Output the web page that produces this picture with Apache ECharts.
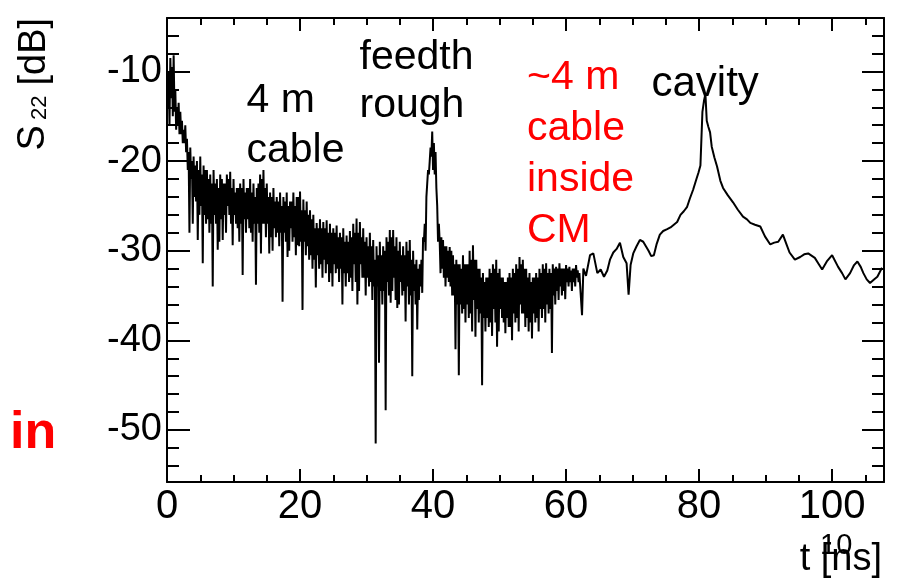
<!DOCTYPE html>
<html>
<head>
<meta charset="utf-8">
<script src="https://cdn.jsdelivr.net/npm/echarts@6/dist/echarts.min.js"></script>
<style>
html,body{margin:0;padding:0;background:#fff;}
#chart{width:902px;height:580px;}
</style>
</head>
<body>
<div id="chart"></div>
<script>
// ---------- data ----------
// noisy part (0 - 62 ns): local maxima every 0.25 ns from 0 ns,
// local minima every 0.25 ns starting half a step later
const noisyStart = 0;
const noisyStep = 0.25;
const noisyPeaks = [
  -11, -10, -8.5, -9.5,
  -8.2, -12, -14, -13.5,
  -14.5, -15.5, -16.5, -16,
  -17.5, -19, -18.5, -20,
  -19.5, -20.5, -20, -21,
  -19.5, -21.5, -20.5, -21,
  -21, -22, -21.5, -22.5,
  -21, -22.5, -22, -23,
  -21.5, -22, -22.5, -22.5,
  -21.5, -22, -21.2, -23,
  -22, -23.5, -23, -23,
  -22.5, -23, -22, -23.5,
  -23, -23, -22, -23.5,
  -22.5, -24, -23, -22.5,
  -21.5, -22, -21, -23,
  -22.5, -24, -23.5, -24,
  -23, -24.5, -24, -24.5,
  -23.5, -25, -24, -24.5,
  -23.5, -25, -24.5, -24.5,
  -23.5, -25, -24, -24,
  -23.4, -25.5, -24.3, -25.5,
  -24.5, -26, -25.5, -26.5,
  -26, -27.5, -26.9, -27.5,
  -26.5, -27.5, -26.8, -27.5,
  -26.6, -28, -27, -28,
  -27.5, -28, -27.2, -28.5,
  -28, -28.5, -27.5, -29,
  -28.3, -29, -27.8, -28.5,
  -27, -28, -26.4, -28,
  -26.8, -28.5, -27.5, -29,
  -28.5, -29.5, -28, -29.5,
  -28.8, -31, -29.5, -30.5,
  -29, -30.5, -29.5, -30,
  -28.5, -29, -27.7, -28.5,
  -27.7, -29.5, -28.5, -30,
  -29, -30.5, -29.5, -30.5,
  -29, -30, -28.8, -31,
  -30, -31.5, -31, -32,
  -31.5, -31, -28.5, -27,
  -24, -21, -20, -19.5,
  -21, -21.5, -23, -29,
  -29, -28.5, -28.8, -29.5,
  -29.5, -30, -29.6, -30,
  -30.5, -31.5, -31, -31.5,
  -31.5, -32, -30.5, -31.5,
  -31.5, -31.5, -30, -31,
  -29.4, -31, -31, -32,
  -32, -33, -32.5, -33.5,
  -33, -33, -32, -32.5,
  -31.5, -32, -31, -32.5,
  -32, -33, -33, -33.5,
  -33.5, -33, -32.5, -33,
  -32, -32.5, -31.5, -32,
  -30.7, -31.5, -31, -32,
  -32, -33, -32.5, -33.5,
  -33, -33, -32.5, -33,
  -32, -32.5, -31.5, -32,
  -31.4, -32.5, -32, -32.5,
  -31.5, -32, -31.8, -32,
  -31.4, -32, -32, -32,
  -31.6, -32, -31.8, -32.2,
  -32, -32, -31.6, -32.2
];
const noisyTroughs = [
  -14, -16, -13, -15,
  -14.5, -16.5, -16, -17,
  -17, -18, -18, -19,
  -21, -28, -22, -27,
  -24, -24.5, -28.8, -26,
  -25, -31.4, -26, -27,
  -26.5, -28, -27, -34,
  -26, -27, -29.9, -29,
  -26.5, -28.8, -26, -28,
  -25, -26, -27, -29.4,
  -26, -27, -27.5, -29,
  -27, -32.7, -26.5, -28,
  -26.5, -27.5, -28, -29,
  -27, -33.8, -27, -28,
  -30.3, -27, -27, -28.5,
  -27, -30.3, -28.5, -30,
  -27.5, -28.5, -28, -29.5,
  -28, -35.7, -28, -29,
  -30.7, -30, -27.5, -29,
  -28.5, -30.5, -29.4, -29.5,
  -29, -36.6, -29, -30.5,
  -29.5, -31, -30.5, -32,
  -31, -34.1, -30.5, -32,
  -31.5, -33, -31, -32.5,
  -31.5, -33.5, -32.5, -34,
  -31.5, -32.5, -32, -33.5,
  -32, -36, -32.5, -34,
  -32.5, -33.5, -33, -34.5,
  -31.5, -33.5, -36, -34.5,
  -31.5, -33, -33, -35,
  -33, -34, -33.5, -35.5,
  -34, -51.5, -34, -42.5,
  -34.5, -36, -34.5, -47.8,
  -33.5, -35, -35.8, -34.5,
  -33, -35.5, -36.4, -36,
  -33.5, -35, -34.5, -37.9,
  -34, -36, -35, -44,
  -34.5, -36, -38.8, -35.5,
  -34, -34.7, -29, -30,
  -22.5, -21.5, -18.5, -16.7,
  -18, -19, -25, -27,
  -32.5, -32, -33, -34,
  -33, -33.5, -34, -35,
  -35, -41, -36, -43.9,
  -36, -37, -36.5, -38,
  -36, -37.5, -37, -39,
  -35.5, -39.6, -36.5, -38,
  -37, -45, -37.5, -39,
  -37.5, -38.5, -38, -39.5,
  -36.5, -38, -40.7, -39,
  -36.5, -37.5, -38, -39.2,
  -37.5, -38.5, -38.5, -40,
  -37, -38, -37.5, -39,
  -36, -37, -37, -38.5,
  -37.5, -39, -38, -39.8,
  -37, -38, -37.5, -39,
  -36.5, -37.5, -36.5, -38,
  -36, -37, -36.5, -41.4,
  -35, -36, -34.5, -35.5,
  -34, -35, -34.5, -35.4,
  -33.5, -34, -33.5, -34.5,
  -33.5, -34, -33, -33.5
];
// smoother part: explicit times (ns) and values (dB)
const smoothTimes = [
  62.0, 62.4, 62.6, 63.0, 63.6, 64.1, 64.7, 65.2, 65.7, 66.2,
  66.6, 67.1, 67.6, 68.1, 68.6, 69.1, 69.4, 69.7, 70.1, 70.6,
  71.1, 71.6, 72.0, 72.4, 72.8, 73.2, 73.6, 74.1, 74.6, 75.2,
  75.7, 76.2, 76.7, 77.2, 77.7, 78.2, 78.6, 79.1, 79.6, 79.9,
  80.2, 80.35, 80.5, 80.75, 80.95, 81.15, 81.4, 81.65, 81.9, 82.3,
  82.7, 83.2, 83.6, 84.3, 85.1, 85.8, 86.6, 87.2, 87.7, 88.4,
  89.2, 89.9, 90.7, 91.3, 91.9, 92.6, 93.1, 93.6, 94.4, 95.2,
  95.8, 96.4, 97.4, 98.0, 98.5, 99.2, 100.0, 100.9, 101.5, 102.0,
  102.7, 103.3, 103.8, 104.3, 104.7, 105.2, 105.7, 106.3, 106.8, 107.5
];
const smoothValues = [
  -32.5, -37.2, -32, -32.8, -30.5, -30.3, -32.5, -32.1, -32.9, -32.2,
  -31, -30.2, -29.8, -29.1, -30.7, -31.4, -34.9, -31.6, -30.3, -29.5,
  -28.8, -29, -29.5, -30, -30.6, -30.5, -29.3, -28.2, -27.8, -27.6,
  -27.4, -27.1, -26.8, -26, -25.6, -25.1, -24.2, -23.2, -22, -21.3,
  -20.5, -17.5, -14.5, -13.2, -12.5, -15.5, -16.2, -16.8, -18.4, -19.6,
  -20.6, -22.2, -23, -23.8, -24.6, -25.4, -26.2, -26.5, -26.9, -27.1,
  -27.3, -28.4, -29.3, -29.1, -29, -28.2, -29.2, -30.2, -31, -30.7,
  -30.4, -30.3, -30.8, -31.5, -32.1, -31.2, -30.5, -31.8, -32.5, -33.2,
  -32.5, -31.6, -31.2, -31.8, -32.5, -33.2, -33.6, -33.2, -32.9, -31.9
];
// axes
const xRange = [0, 107.8];
const yRange = [-55.8, -4.04];
const xMajorTicks = [0, 20, 40, 60, 80, 100];
const xMinorTicks = [5, 10, 15, 25, 30, 35, 45, 50, 55, 65, 70, 75, 85, 90, 95, 105];
const yMajorTicks = [-50, -40, -30, -20, -10];
const yMinorTicks = [-54, -52, -48, -46, -44, -42, -38, -36, -34, -32, -28, -26, -24, -22, -18, -16, -14, -12, -8, -6];

// ---------- build ----------
const seriesData = [];
noisyPeaks.forEach((v, i) => {
  const t = noisyStart + i * noisyStep;
  seriesData.push([t, v]);
  seriesData.push([t + noisyStep / 2, noisyTroughs[i]]);
});
smoothTimes.forEach((t, i) => seriesData.push([t, smoothValues[i]]));

const FONT = "'Liberation Sans', Arial, Helvetica, sans-serif";
const black = '#000';

function xAx(position, ticks, len, showLine, showLabel) {
  return {
    type: 'value', position, min: xRange[0], max: xRange[1],
    axisLine: { show: showLine, onZero: false, lineStyle: { color: black, width: 2 } },
    axisTick: { show: true, inside: true, length: len, customValues: ticks, lineStyle: { color: black, width: 2 } },
    axisLabel: showLabel ? { show: true, customValues: ticks, color: black, fontSize: 40, fontFamily: FONT, margin: 5 } : { show: false },
    splitLine: { show: false }
  };
}
function yAx(position, ticks, len, showLine, showLabel) {
  return {
    type: 'value', position, min: yRange[0], max: yRange[1],
    axisLine: { show: showLine, onZero: false, lineStyle: { color: black, width: 2 } },
    axisTick: { show: true, inside: true, length: len, customValues: ticks, lineStyle: { color: black, width: 2 } },
    axisLabel: showLabel ? { show: true, customValues: ticks, color: black, fontSize: 38, fontFamily: FONT, margin: 5 } : { show: false },
    splitLine: { show: false }
  };
}

function txt(text, x, y, size, color, lineHeight, extra) {
  return Object.assign({
    type: 'text', x, y, silent: true,
    style: {
      text, fill: color, fontSize: size, fontFamily: FONT, lineHeight,
      align: 'left', verticalAlign: 'top', textAlign: 'left', textVerticalAlign: 'top'
    }
  }, extra || {});
}

const chart = echarts.init(document.getElementById('chart'), null, { renderer: 'canvas' });
chart.setOption({
  animation: false,
  backgroundColor: '#fff',
  grid: { left: 167, right: 18, top: 18, bottom: 98, containLabel: false },
  xAxis: [
    xAx('bottom', xMajorTicks, 13, true, true),
    xAx('bottom', xMinorTicks, 7, false, false),
    xAx('top', xMajorTicks, 13, true, false),
    xAx('top', xMinorTicks, 7, false, false)
  ],
  yAxis: [
    yAx('left', yMajorTicks, 23, true, true),
    yAx('left', yMinorTicks, 12, false, false),
    yAx('right', yMajorTicks, 22, true, false),
    yAx('right', yMinorTicks, 12, false, false)
  ],
  series: [{
    type: 'line', xAxisIndex: 0, yAxisIndex: 0,
    data: seriesData, showSymbol: false, symbol: 'none',
    lineStyle: { color: black, width: 2 }, clip: true
  }],
  graphic: [
    txt('4 m\ncable', 246.5, 75.3, 41, black, 50),
    txt('feedth\nrough', 359.5, 33.3, 41, black, 48),
    txt('~4 m\ncable\ninside\nCM', 527, 51.8, 41, '#ff0000', 51),
    txt('cavity', 651.5, 59.3, 42, black, 50),
    {
      type: 'text', x: 10, y: 408, silent: true,
      style: { text: 'in', fill: '#ff0000', fontSize: 52, fontWeight: 'bold', fontFamily: FONT, lineHeight: 52,
        align: 'left', verticalAlign: 'top', textAlign: 'left', textVerticalAlign: 'top' }
    },
    {
      type: 'text', x: 882, y: 541, silent: true,
      style: { text: 't [ns]', fill: black, fontSize: 38, fontFamily: FONT, lineHeight: 38,
        align: 'right', verticalAlign: 'top', textAlign: 'right', textVerticalAlign: 'top' }
    },
    txt('10', 820, 531.5, 29, black, 29),
    {
      type: 'text', x: 33.2, y: 150.5, rotation: Math.PI / 2, silent: true,
      style: { text: 'S', fill: black, fontSize: 38, fontFamily: FONT,
        align: 'left', verticalAlign: 'middle', textAlign: 'left', textVerticalAlign: 'middle' }
    },
    {
      type: 'text', x: 39.5, y: 120, rotation: Math.PI / 2, silent: true,
      style: { text: '22', fill: black, fontSize: 22, fontFamily: FONT,
        align: 'left', verticalAlign: 'middle', textAlign: 'left', textVerticalAlign: 'middle' }
    },
    {
      type: 'text', x: 34.2, y: 85.5, rotation: Math.PI / 2, silent: true,
      style: { text: '[dB]', fill: black, fontSize: 38, fontFamily: FONT,
        align: 'left', verticalAlign: 'middle', textAlign: 'left', textVerticalAlign: 'middle' }
    }
  ]
});
</script>
</body>
</html>
